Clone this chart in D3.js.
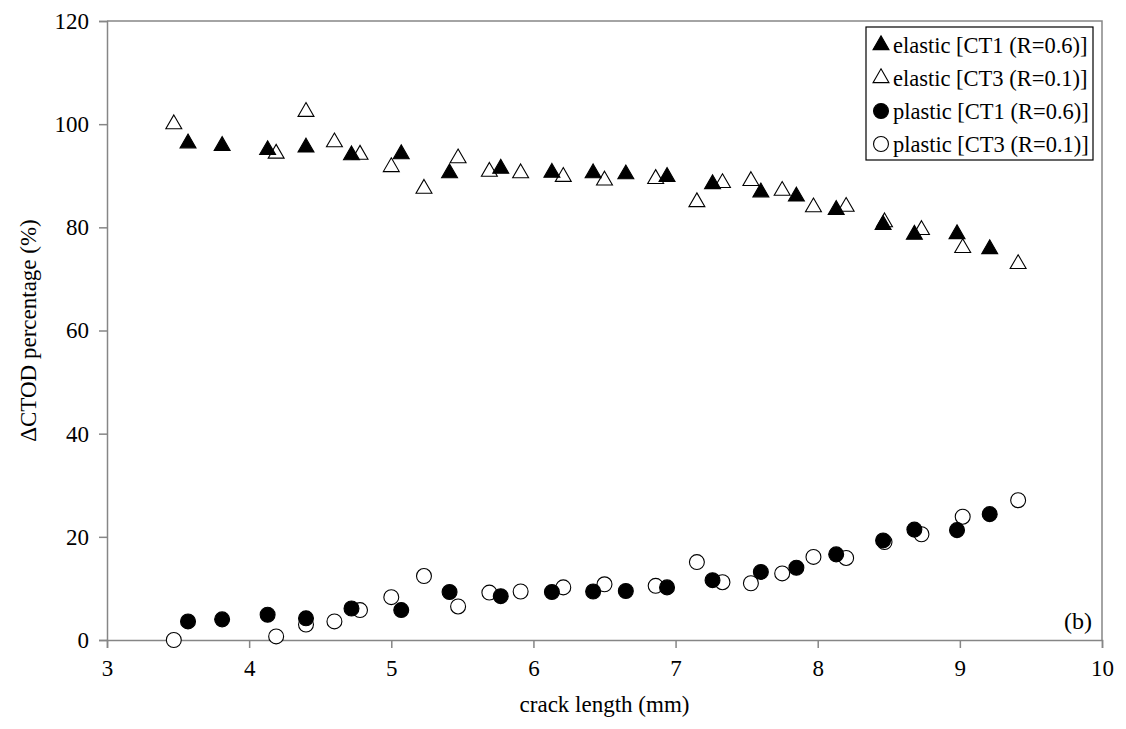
<!DOCTYPE html>
<html>
<head>
<meta charset="utf-8">
<script src="https://cdn.jsdelivr.net/npm/d3@7"></script>
<style>
  body { margin: 0; background: #fff; }
  text { font-family: "Liberation Serif", "Times New Roman", serif; fill: #000; }
</style>
</head>
<body>
<svg id="chart" width="1126" height="729"></svg>
<script>
// crack length (mm) for each specimen
var lengthCT1 = [3.57, 3.81, 4.13, 4.40, 4.72, 5.07, 5.41, 5.77, 6.13, 6.42, 6.65, 6.94, 7.26, 7.60, 7.85, 8.13, 8.46, 8.68, 8.98, 9.21]
var lengthCT3 = [3.47, 4.19, 4.40, 4.60, 4.78, 5.00, 5.23, 5.47, 5.69, 5.91, 6.21, 6.50, 6.86, 7.15, 7.33, 7.53, 7.75, 7.97, 8.20, 8.47, 8.73, 9.02, 9.41]

// dCTOD share (%)
var elasticCT1 = [96.3, 95.8, 95.0, 95.5, 94.0, 94.2, 90.5, 91.4, 90.6, 90.5, 90.3, 89.8, 88.4, 86.8, 86.0, 83.4, 80.5, 78.6, 78.7, 75.8]
var plasticCT1 = [3.6, 4.0, 4.9, 4.2, 6.1, 5.8, 9.3, 8.5, 9.3, 9.4, 9.5, 10.2, 11.6, 13.2, 14.0, 16.6, 19.3, 21.4, 21.3, 24.4]
var elasticCT3 = [100.0, 94.3, 102.4, 96.5, 94.1, 91.7, 87.5, 93.4, 90.8, 90.5, 89.8, 89.1, 89.4, 84.9, 88.6, 89.0, 87.1, 83.9, 84.0, 81.0, 79.5, 76.0, 72.9]
var plasticCT3 = [0.0, 0.7, 3.0, 3.6, 5.8, 8.3, 12.4, 6.5, 9.2, 9.4, 10.2, 10.8, 10.5, 15.1, 11.2, 11.0, 12.9, 16.1, 15.9, 19.0, 20.5, 23.9, 27.1]

var xTicks = [3, 4, 5, 6, 7, 8, 9, 10]
var yTicks = [0, 20, 40, 60, 80, 100, 120]

var seriesNames = ["elastic [CT1 (R=0.6)]", "elastic [CT3 (R=0.1)]", "plastic [CT1 (R=0.6)]", "plastic [CT3 (R=0.1)]"]

var svg = d3.select("#chart")
var margin = {left: 107, right: 24, top: 21, bottom: 89}
var width = 1126 - margin.left - margin.right
    height = 729 - margin.top - margin.bottom

var g = svg.append("g").attr("transform", "translate(" + margin.left + "," + margin.top + ")")

var x = d3.scaleLinear().domain([3, 10]).range([0, width])
var y = d3.scaleLinear().domain([0, 120]).range([height, 0])

var axisColor = "#868686"

// frame (top and right)
g.append("path")
  .attr("d", "M0,0H" + width + "V" + height)
  .attr("fill", "none").attr("stroke", axisColor).attr("stroke-width", 1.5)

// axes
var xAxis = g.append("g").attr("transform", "translate(0," + height + ")")
  .call(d3.axisBottom(x).tickValues(xTicks).tickSize(8).tickPadding(8).tickFormat(d3.format("d")))
var yAxis = g.append("g")
  .call(d3.axisLeft(y).tickValues(yTicks).tickSize(8).tickPadding(10).tickFormat(d3.format("d")))

;[xAxis, yAxis].forEach(function(a) {
  a.select(".domain").attr("stroke", axisColor).attr("stroke-width", 1.5)
  a.selectAll(".tick line").attr("stroke", axisColor).attr("stroke-width", 1.5)
  a.selectAll("text").style("font-size", "23px").style("font-family", "Liberation Serif")
})
xAxis.selectAll("text").attr("dy", "0.85em")

// axis titles
svg.append("text")
  .attr("x", margin.left + width / 2).attr("y", 712)
  .attr("text-anchor", "middle").style("font-size", "23px")
  .text("crack length (mm)")

svg.append("text")
  .attr("transform", "translate(36," + (margin.top + height / 2) + ") rotate(-90)")
  .attr("text-anchor", "middle").style("font-size", "23px")
  .text("\u0394CTOD percentage (%)")

// marker shapes
var tri = d3.symbol().type(d3.symbolTriangle).size(110)
var circ = d3.symbol().type(d3.symbolCircle).size(175)

function drawSeries(xs, ys, shape, filled) {
  g.append("g").selectAll("path")
    .data(xs.map(function(d, i) { return [d, ys[i]] }))
    .enter().append("path")
    .attr("d", shape)
    .attr("transform", function(d) { return "translate(" + x(d[0]) + "," + y(d[1]) + ")" })
    .attr("fill", filled ? "#000" : "#fff")
    .attr("stroke", "#000")
    .attr("stroke-width", 1.1)
}

drawSeries(lengthCT3, elasticCT3, tri, false)
drawSeries(lengthCT1, elasticCT1, tri, true)
drawSeries(lengthCT3, plasticCT3, circ, false)
drawSeries(lengthCT1, plasticCT1, circ, true)

// legend
var legend = svg.append("g").attr("transform", "translate(866,27)")
legend.append("rect")
  .attr("width", 227).attr("height", 133)
  .attr("fill", "#fff").attr("stroke", "#000").attr("stroke-width", 1.2)

var legendShapes = [[tri, true], [tri, false], [circ, true], [circ, false]]
seriesNames.forEach(function(name, i) {
  var row = legend.append("g").attr("transform", "translate(0," + (18 + i * 33) + ")")
  row.append("path")
    .attr("d", legendShapes[i][0])
    .attr("transform", "translate(15,0)")
    .attr("fill", legendShapes[i][1] ? "#000" : "#fff")
    .attr("stroke", "#000").attr("stroke-width", 1.1)
  row.append("text")
    .attr("x", 27).attr("y", 8)
    .style("font-size", "22.5px")
    .text(name)
})

// panel label
g.append("text")
  .attr("x", width - 10).attr("y", height - 11)
  .attr("text-anchor", "end").style("font-size", "24px")
  .text("(b)")
</script>
</body>
</html>
